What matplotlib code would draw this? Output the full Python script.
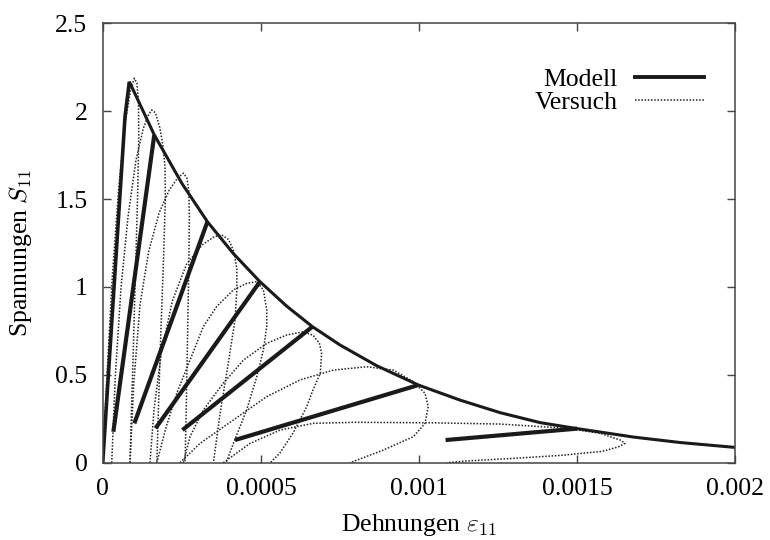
import numpy as np
import matplotlib
matplotlib.use("Agg")
import matplotlib.pyplot as plt
from matplotlib.lines import Line2D

plt.rcParams['font.family'] = ['Liberation Serif', 'DejaVu Serif']
plt.rcParams['mathtext.fontset'] = 'cm'

# ---------------- data (strain in permille, scaled below) ----------------
x_ticks = [0, 0.0005, 0.001, 0.0015, 0.002]
x_tick_labels = ["0", "0.0005", "0.001", "0.0015", "0.002"]
y_ticks = [0, 0.5, 1, 1.5, 2, 2.5]
y_tick_labels = ["0", "0.5", "1", "1.5", "2", "2.5"]

# Model: initial loading
init_strain = [0.0, 0.0705, 0.0841]
init_stress = [0.0, 1.969, 2.168]

# Model: softening envelope
env_strain = [0.0841, 0.163, 0.25, 0.331, 0.413, 0.497, 0.582, 0.663, 0.75,
              0.866, 0.998, 1.13, 1.256, 1.383, 1.5, 1.678, 1.825, 2.0]
env_stress = [2.168, 1.865, 1.59, 1.371, 1.19, 1.03, 0.89, 0.774, 0.67,
              0.552, 0.442, 0.356, 0.285, 0.228, 0.194, 0.146, 0.115, 0.087]

# Model: unloading branches (top on envelope -> lower end)
unl_top_strain = [0.163, 0.331, 0.497, 0.663, 0.998, 1.5]
unl_top_stress = [1.865, 1.371, 1.03, 0.774, 0.442, 0.194]
unl_end_strain = [0.0336, 0.1, 0.167, 0.252, 0.418, 1.084]
unl_end_stress = [0.176, 0.224, 0.196, 0.186, 0.129, 0.129]

# Test (Versuch): hysteresis loops
loop1_strain = [0, 0.012, 0.03, 0.05, 0.07, 0.088, 0.1, 0.108, 0.113, 0.114, 0.11, 0.103, 0.096, 0.09, 0.0863]
loop1_stress = [0, 0.45, 1.05, 1.55, 1.92, 2.12, 2.187, 2.16, 2.06, 1.85, 1.5, 1.05, 0.6, 0.25, 0]
loop2_strain = [0.0285, 0.04, 0.058, 0.08, 0.105, 0.128, 0.145, 0.155, 0.167, 0.18, 0.19, 0.197, 0.198, 0.192, 0.183, 0.176, 0.171]
loop2_stress = [0, 0.5, 1.0, 1.4, 1.72, 1.9, 1.98, 2.007, 1.99, 1.91, 1.81, 1.68, 1.5, 1.15, 0.7, 0.3, 0]
loop3_strain = [0.0863, 0.098, 0.118, 0.145, 0.178, 0.21, 0.237, 0.255, 0.266, 0.272, 0.274, 0.272, 0.268, 0.264, 0.2602]
loop3_stress = [0, 0.45, 0.9, 1.2, 1.42, 1.55, 1.62, 1.647, 1.62, 1.55, 1.4, 1.1, 0.7, 0.3, 0]
loop4_strain = [0.1495, 0.162, 0.185, 0.22, 0.265, 0.315, 0.352, 0.376, 0.398, 0.415, 0.424, 0.424, 0.418, 0.397, 0.371, 0.35]
loop4_stress = [0, 0.3, 0.62, 0.92, 1.13, 1.24, 1.285, 1.296, 1.27, 1.2, 1.1, 0.98, 0.81, 0.566, 0.28, 0]
loop5_strain = [0.171, 0.2, 0.235, 0.276, 0.318, 0.36, 0.413, 0.455, 0.487, 0.508, 0.5185, 0.5185, 0.508, 0.487, 0.455, 0.413, 0.39]
loop5_stress = [0, 0.2, 0.4, 0.584, 0.774, 0.888, 0.983, 1.02, 1.03, 0.983, 0.869, 0.774, 0.641, 0.489, 0.3, 0.11, 0]
loop6_strain = [0.255, 0.276, 0.318, 0.381, 0.445, 0.5185, 0.582, 0.634, 0.665, 0.685, 0.692, 0.688, 0.665, 0.645, 0.602, 0.56, 0.53]
loop6_stress = [0, 0.148, 0.3, 0.452, 0.584, 0.679, 0.727, 0.745, 0.725, 0.68, 0.622, 0.51, 0.415, 0.319, 0.17, 0.055, 0]
loop7_strain = [0.2444, 0.3076, 0.413, 0.5185, 0.624, 0.729, 0.835, 0.919, 0.982, 1.019, 1.029, 1.019, 0.982, 0.887, 0.782]
loop7_stress = [0, 0.11, 0.243, 0.376, 0.471, 0.527, 0.546, 0.527, 0.461, 0.395, 0.319, 0.224, 0.148, 0.072, 0]
loop8_strain = [0.381, 0.466, 0.561, 0.666, 0.8, 1.045, 1.256, 1.467, 1.573, 1.636, 1.651, 1.63, 1.58, 1.45, 1.3, 1.15, 1.088]
loop8_stress = [0, 0.11, 0.186, 0.224, 0.23, 0.227, 0.22, 0.196, 0.167, 0.129, 0.11, 0.09, 0.065, 0.042, 0.025, 0.01, 0]

loops = [(loop1_strain, loop1_stress), (loop2_strain, loop2_stress),
         (loop3_strain, loop3_stress), (loop4_strain, loop4_stress),
         (loop5_strain, loop5_stress), (loop6_strain, loop6_stress),
         (loop7_strain, loop7_stress), (loop8_strain, loop8_stress)]

PERMILLE = 1e-3
FS = 18.5

# ---------------- figure ----------------
fig = plt.figure(figsize=(7.7, 5.4), dpi=100)
ax = fig.add_axes([0.1334, 0.1431, 0.8216, 0.8138])

dot_style = dict(color='#222222', lw=1.1, ls=(0, (1, 1.1)))
for xs, ys in loops:
    ax.plot(np.array(xs) * PERMILLE, ys, **dot_style)

thick = dict(color='#1a1a1a', solid_capstyle='butt')
ax.plot(np.array(init_strain) * PERMILLE, init_stress, lw=2.6, **thick)
ax.plot(np.array(env_strain) * PERMILLE, env_stress, lw=2.2, **thick)
for xt, yt, xe, ye in zip(unl_top_strain, unl_top_stress, unl_end_strain, unl_end_stress):
    ax.plot(np.array([xe, xt]) * PERMILLE, [ye, yt], lw=3.0, **thick)

ax.set_xlim(0, 0.002)
ax.set_ylim(0, 2.5)
ax.set_xticks(x_ticks)
ax.set_xticklabels(x_tick_labels)
ax.set_yticks(y_ticks)
ax.set_yticklabels(y_tick_labels)
ax.tick_params(direction='in', length=6, width=1, top=True, right=True,
               labelsize=FS, pad=11, color='#444444')
for s in ax.spines.values():
    s.set_linewidth(1.1)
    s.set_color('#444444')

ax.set_xlabel(r'Dehnungen $\varepsilon_{11}$', fontsize=FS)
ax.set_ylabel(r'Spannungen $S_{11}$', fontsize=FS)
ax.xaxis.set_label_coords(0.5, -0.113)
ax.yaxis.set_label_coords(-0.109, 0.477)

# legend handles
h_model = Line2D([], [], lw=2.8, color='#1a1a1a')
h_test = Line2D([], [], **dot_style)
ax.legend([h_model, h_test], ['Modell', 'Versuch'], loc='upper right',
          bbox_to_anchor=(0.9505, 0.899), frameon=False, markerfirst=False,
          fontsize=FS, handlelength=2.7, handletextpad=0.65, labelspacing=0.03,
          borderpad=0, borderaxespad=0)

fig.savefig('out.png', dpi=100)
